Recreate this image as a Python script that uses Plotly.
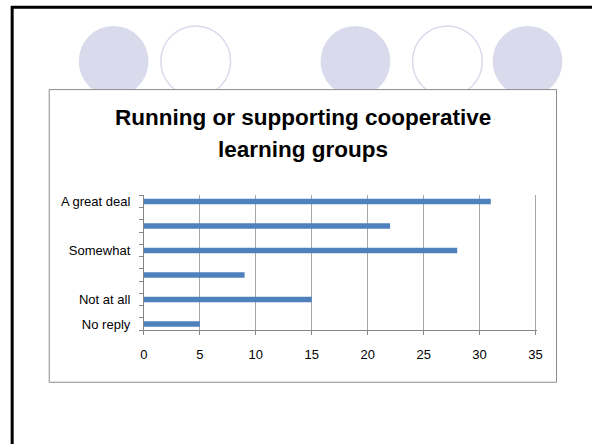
import plotly.graph_objects as go

# survey answers, top row first (blank rows sit between the answers on the chart)
responses = ["A great deal", "", "Somewhat", "", "Not at all", "No reply"]
counts = [31, 22, 28, 9, 15, 5]
x_ticks = [0, 5, 10, 15, 20, 25, 30, 35]

title_lines = ["Running or supporting cooperative", "learning groups"]

W, H = 592, 444
FONT = "Liberation Sans, Arial, sans-serif"
LAV = "#dadaed"


def px(x):
    return x / W


def py(y):
    return 1 - y / H


n_slots = 2 * len(responses) - 1
rows = [n_slots - 2 * i for i in range(len(responses))]

fig = go.Figure()
fig.add_trace(go.Bar(
    x=counts, y=rows, orientation="h", width=0.45,
    marker=dict(color="#4f81bd", line=dict(width=0)),
    hoverinfo="x",
))

shapes = []
# slide frame
shapes.append(dict(type="rect", xref="paper", yref="paper",
                   x0=px(8.3), x1=px(640), y0=py(6.2), y1=py(480),
                   line=dict(color="black", width=3), fillcolor="rgba(0,0,0,0)", layer="below"))
# decorative circles
for cx, filled in [(111.5, True), (195, False), (357.5, True), (451, False), (532.5, True)]:
    r = 35.5
    shapes.append(dict(type="circle", xref="paper", yref="paper",
                       x0=px(cx - r), x1=px(cx + r), y0=py(60.5 - r), y1=py(60.5 + r),
                       fillcolor=LAV if filled else "white",
                       line=dict(color=LAV, width=0 if filled else 1.5), layer="below"))
# chart box
shapes.append(dict(type="rect", xref="paper", yref="paper",
                   x0=px(46), x1=px(562), y0=py(89), y1=py(383),
                   fillcolor="white", line=dict(color="#8c8c8c", width=1), layer="below"))

annotations = []
for line, yc in zip(title_lines, [117, 149.5]):
    annotations.append(dict(text="<b>%s</b>" % line, xref="paper", yref="paper",
                            x=px(304), y=py(yc), xanchor="center", yanchor="middle",
                            showarrow=False, font=dict(family=FONT, size=22.5, color="black")))

fig.update_layout(
    width=W, height=H,
    margin=dict(l=0, r=0, t=0, b=0),
    paper_bgcolor="white",
    plot_bgcolor="rgba(0,0,0,0)",
    showlegend=False,
    shapes=shapes,
    annotations=annotations,
    font=dict(family=FONT, size=13, color="black"),
    xaxis=dict(
        # range runs a hair past 35 so plotly keeps the last gridline
        domain=[px(142.3), px(542.4)], range=[0, 35.15],
        tickvals=x_ticks, ticks="outside", ticklen=4, tickcolor="#868686",
        showgrid=True, gridcolor="#a6a6a6", gridwidth=1,
        showline=True, linecolor="#868686", linewidth=1,
        zeroline=False, ticklabelstandoff=8,
        tickfont=dict(family=FONT, size=13, color="black"),
    ),
    yaxis=dict(
        domain=[py(330.7), py(195.3)], range=[0.5, n_slots + 0.5],
        tickvals=rows, ticktext=responses, ticks="",
        minor=dict(tick0=0.5, dtick=1, ticks="outside", ticklen=4, tickcolor="#868686", showgrid=False),
        showgrid=False, showline=True, linecolor="#868686", linewidth=1,
        zeroline=False, ticklabelstandoff=10,
        tickfont=dict(family=FONT, size=13, color="black"),
    ),
)

fig.write_html("out.html", config={"displayModeBar": False},
               post_script="document.body.style.margin='0';document.body.style.overflow='hidden';")
